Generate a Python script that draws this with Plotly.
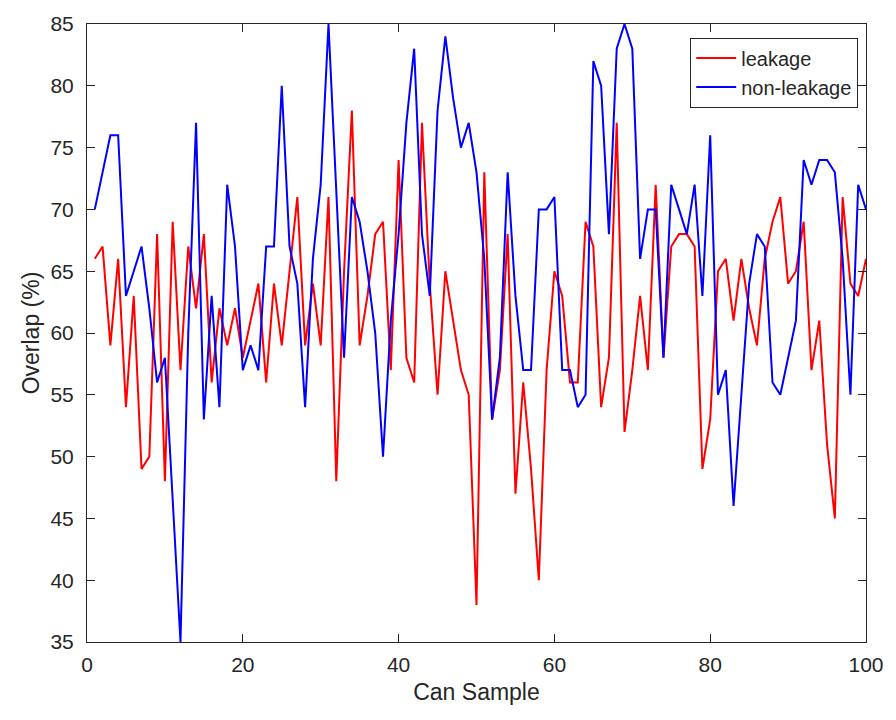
import plotly.graph_objects as go

# Overlap (%) per can sample, 1..100
samples = list(range(1, 101))

leakage = [66, 67, 59, 66, 54, 63, 49, 50, 68, 48,
           69, 57, 67, 62, 68, 56, 62, 59, 62, 58,
           61, 64, 56, 64, 59, 65, 71, 59, 64, 59,
           71, 48, 65, 78, 59, 63, 68, 69, 57, 74,
           58, 56, 77, 64, 55, 65, 61, 57, 55, 38,
           73, 53, 57, 68, 47, 56, 49, 40, 57, 65,
           63, 56, 56, 69, 67, 54, 58, 77, 52, 57,
           63, 57, 72, 58, 67, 68, 68, 67, 49, 53,
           65, 66, 61, 66, 62, 59, 66, 69, 71, 64,
           65, 69, 57, 61, 51, 45, 71, 64, 63, 66]

non_leakage = [70, 73, 76, 76, 63, 65, 67, 62, 56, 58,
               47, 35, 60, 77, 53, 63, 54, 72, 67, 57,
               59, 57, 67, 67, 80, 67, 64, 54, 66, 72,
               85, 72, 58, 71, 69, 65, 60, 50, 61, 68,
               77, 83, 68, 63, 78, 84, 79, 75, 77, 73,
               66, 53, 58, 73, 63, 57, 57, 70, 70, 71,
               57, 57, 54, 55, 82, 80, 68, 83, 85, 83,
               66, 70, 70, 58, 72, 70, 68, 72, 63, 76,
               55, 57, 46, 55, 64, 68, 67, 56, 55, 58,
               61, 74, 72, 74, 74, 73, 66, 55, 72, 70]

x_ticks = [0, 20, 40, 60, 80, 100]
y_ticks = [35, 40, 45, 50, 55, 60, 65, 70, 75, 80, 85]

FONT = "Liberation Sans, Arial, Helvetica, sans-serif"
AXIS_COLOR = "#262626"

fig = go.Figure()
fig.add_trace(go.Scatter(x=samples, y=leakage, mode="lines", name="leakage",
                         line=dict(color="#ff0000", width=2)))
fig.add_trace(go.Scatter(x=samples, y=non_leakage, mode="lines", name="non-leakage",
                         line=dict(color="#0000ff", width=2)))

axis_common = dict(
    showgrid=False, zeroline=False, showline=True, linecolor=AXIS_COLOR, linewidth=1,
    mirror="allticks", ticks="inside", ticklen=8, tickcolor=AXIS_COLOR, tickwidth=1,
    tickfont=dict(family=FONT, size=21, color=AXIS_COLOR),
)

fig.update_xaxes(range=[0, 100], tickvals=x_ticks, ticklabelstandoff=4,
                 title=dict(text="Can Sample", font=dict(family=FONT, size=23, color=AXIS_COLOR),
                            standoff=8),
                 **axis_common)
fig.update_yaxes(range=[35, 85], tickvals=y_ticks, ticklabelstandoff=8,
                 title=dict(text="Overlap (%)", font=dict(family=FONT, size=23, color=AXIS_COLOR),
                            standoff=4),
                 **axis_common)

fig.update_layout(
    width=896, height=720,
    margin=dict(l=87, r=20, t=16, b=78),
    plot_bgcolor="white", paper_bgcolor="white",
    legend=dict(x=0.99, y=0.978, xanchor="right", yanchor="top",
                bgcolor="white", bordercolor=AXIS_COLOR, borderwidth=1,
                font=dict(family=FONT, size=20, color=AXIS_COLOR),
                itemwidth=40, tracegroupgap=0),
    showlegend=True,
)

fig.write_html("out.html")
